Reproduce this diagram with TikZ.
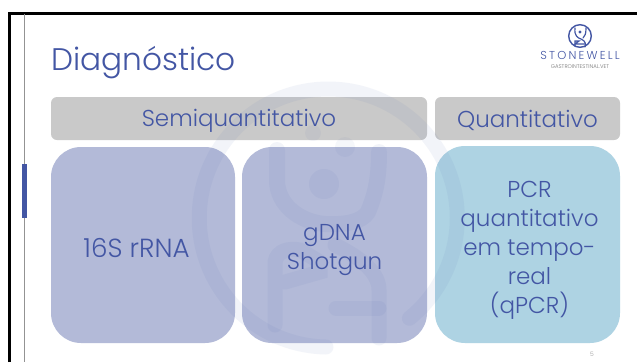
\documentclass[tikz,border=0pt]{standalone}
\usepackage{fontspec}
\setmainfont{Poppins Light}
\definecolor{ink}{HTML}{4356A4}
\definecolor{hdr}{HTML}{C9C9C9}
\definecolor{lav}{HTML}{B3BAD8}
\definecolor{sky}{HTML}{AED3E3}
\definecolor{wm}{HTML}{4A66AE}
\tikzset{
 hdrbox/.style={draw=none,fill=hdr,rounded corners=6pt,inner sep=0pt},
 bigbox/.style={draw=none,rounded corners=30pt,inner sep=0pt},
 lbl/.style={inner sep=0pt,text=ink,align=center,font=\fontsize{23}{29}\selectfont},
 mark stroke/.style={draw=wm,opacity=.065,line cap=round,line width=15pt},
 logo stroke/.style={draw=ink,line cap=round,line width=1.2pt},
}
\begin{document}
\begin{tikzpicture}[x=1pt,y=-1pt]
\useasboundingbox (0,0) rectangle (637,362);
\fill[white] (0,0) rectangle (637,362);
% frame
\draw[black,line width=2.6pt] (9.5,362) -- (9.5,13.5) -- (637,13.5);
\draw[gray!85,line width=1pt] (24.5,14) -- (24.5,362);
\fill[ink] (22,164) rectangle (27,218);
% title
\node[anchor=west,text=ink,font=\fontsize{31.2}{36}\selectfont,inner sep=0pt] (title) at (51,63) {Diagnóstico};
% boxes
\node[hdrbox,minimum width=376pt,minimum height=43pt] (semi) at (239,118.5) {};
\node[hdrbox,minimum width=185pt,minimum height=43pt] (quant) at (527.5,118.5) {};
\node[bigbox,fill=lav,minimum width=184pt,minimum height=196pt] (rna) at (143,245) {};
\node[bigbox,fill=lav,minimum width=185pt,minimum height=196pt] (gdna) at (334.5,245) {};
\node[bigbox,fill=sky,minimum width=185pt,minimum height=197pt] (pcr) at (527.5,244.5) {};
% watermark
\draw[mark stroke] (326,347) arc[start angle=91,end angle=411,radius=129];
\draw[mark stroke,line width=16pt] (277,150) -- (277,180) .. controls (277,205) and (300,222) .. (325,224) .. controls (345,225) and (362,222) .. (368,212) .. controls (375,195) and (379,180) .. (379,152);
\fill[wm,opacity=.065] (324,184) circle (15);
\fill[wm,opacity=.05] (313,133) circle (8);
\fill[wm,opacity=.05] (345,147) circle (10);
\draw[mark stroke] (275,325) -- (275,262) .. controls (277,250) and (290,248) .. (300,250) -- (320,262) -- (320,272) -- (285,282);
\draw[mark stroke] (336,308) -- (379,308);
\draw[mark stroke] (379,338) -- (379,290) .. controls (379,270) and (355,255) .. (335,245);
% labels
\node[lbl] (semit) at (239,120.5) {Semiquantitativo};
\node[lbl] (quantt) at (527.5,120.5) {Quantitativo};
\node[lbl,font=\fontsize{26.2}{29}\selectfont] (rnat) at (136.5,248) {16S rRNA};
\node[lbl] (gdnat) at (334.5,250) {gDNA\\Shotgun};
\node[lbl] (pcrt) at (529.5,250) {PCR\\quantitativo\\em tempo-\\real\\(qPCR)};
% logo
\draw[logo stroke,line width=1.4pt] (580,36) circle (11.3);
\draw[logo stroke] (575,28) .. controls (574,36) and (578,38) .. (581,39) .. controls (586,41) and (586,45) .. (585,47);
\draw[logo stroke] (586,28) .. controls (586,34) and (585,36) .. (583,38);
\draw[logo stroke] (575,46) -- (575,41) -- (579,41) -- (575,44) -- (585,44);
\fill[ink] (580,32) circle (1.6);
\node[text=ink,font=\fontsize{11.5}{12}\selectfont,inner sep=0pt] (brand) at (580,55.5) {S\kern2.2pt T\kern2.2pt O\kern2.2pt N\kern2.2pt E\kern2.2pt W\kern2.2pt E\kern2.2pt L\kern2.2pt L};
\node[text=gray!90!black,font=\fontsize{5.4}{5.6}\selectfont,inner sep=0pt] (sub) at (580,66.5) {GASTROINTESTINAL.VET};
\node[text=gray!80,font=\fontsize{6}{6}\selectfont,inner sep=0pt] (page) at (592,354.5) {5};
\end{tikzpicture}
\end{document}
